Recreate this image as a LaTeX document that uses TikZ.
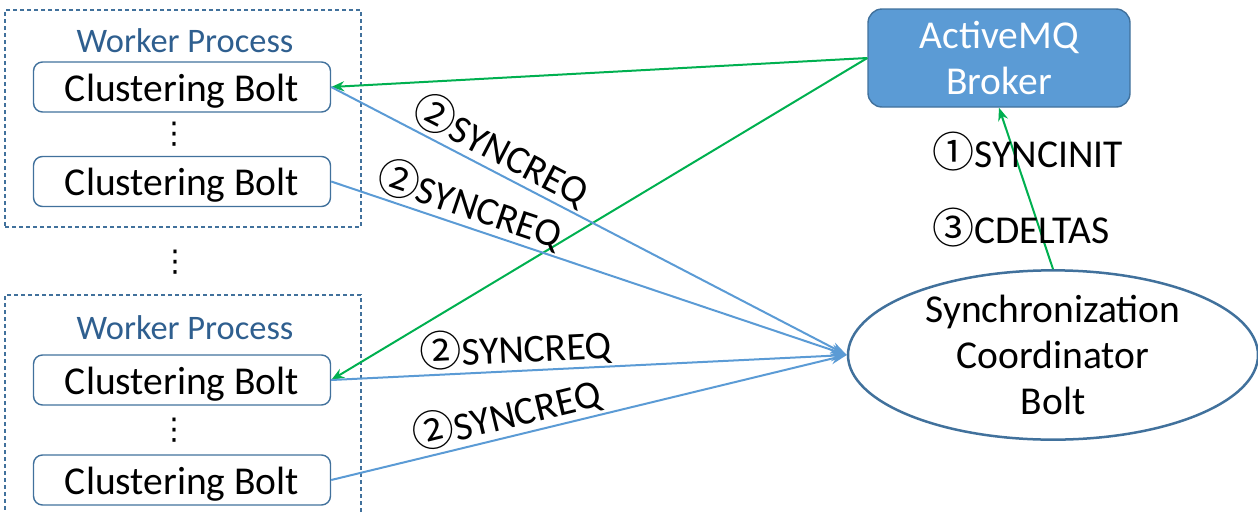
\documentclass[tikz,border=0pt]{standalone}
\usepackage{fontspec}
\setmainfont{Carlito}
\newfontfamily\circfont{Noto Sans CJK SC}
\newfontfamily\symfont{DejaVu Sans}
\usetikzlibrary{arrows.meta,shapes.geometric}
\definecolor{boxblue}{HTML}{41719C}
\definecolor{lineblue}{HTML}{5B9BD5}
\definecolor{msgreen}{HTML}{00B050}
\definecolor{wptext}{HTML}{2F5F8F}
% circled step number
\newcommand\stepno[1]{{\circfont\fontsize{42}{42}\selectfont #1}}

\begin{document}
\begin{tikzpicture}[x=1pt,y=-1pt,
  every node/.style={font=\fontsize{39.5}{46}\selectfont, inner sep=0pt},
  bolt/.style={draw=boxblue, line width=1.4pt, rounded corners=9pt,
    minimum width=297pt, minimum height=50pt, text height=28pt, text depth=0pt},
  worker/.style={draw=boxblue, dash pattern=on 4pt off 3pt, line width=1.3pt,
    minimum width=356pt},
  wptitle/.style={text=wptext, font=\fontsize{34.4}{40}\selectfont},
  broker/.style={draw=boxblue, fill=lineblue, line width=1.4pt, rounded corners=14pt,
    minimum width=262pt, minimum height=98pt, text=white, align=center},
  coord/.style={ellipse, draw=boxblue, line width=2.5pt, minimum width=410pt,
    minimum height=164pt, align=center},
  dots/.style={font=\symfont\fontsize{30}{30}\selectfont},
  greenarrow/.style={draw=msgreen, line width=2pt, -{Stealth[length=13pt,width=10pt]}},
  bluearrow/.style={draw=lineblue, line width=2pt, -{Stealth[length=16pt,width=11pt]}},
  msg/.style={sloped, above=2pt}
]
\useasboundingbox (0,0) rectangle (1258,512);
\clip (0,0) rectangle (1258,512);

% worker processes
\node[worker, minimum height=217pt] (w1) at (183,118.5) {};
\node[worker, minimum height=225pt] (w2) at (183,407.5) {};
\node[wptitle] (w1t) at (185,41) {Worker Process};
\node[wptitle] (w2t) at (185,328) {Worker Process};

% clustering bolts
\node[bolt] (b1) at (182,87) {Clustering Bolt};
\node[bolt] (b2) at (182,181.5) {Clustering Bolt};
\node[bolt] (b3) at (182,380) {Clustering Bolt};
\node[bolt] (b4) at (182,480) {Clustering Bolt};
\node[dots] (d1) at (174,134) {⋮};
\node[dots] (d2) at (175,262) {⋮};
\node[dots] (d3) at (174,430) {⋮};

% broker and coordinator
\node[broker] (mq) at (999,58) {ActiveMQ\\Broker};
\node[coord] (sc) at (1053,355) {Synchronization\\Coordinator\\Bolt};

% messages
\draw[greenarrow] (mq.west) -- (b1.east);
\draw[greenarrow] (mq.west) -- (b3.east);
\draw[greenarrow] (sc.north) -- (mq.south);
\draw[bluearrow] (b1.east) -- node[msg, pos=0.31] (l1) {\stepno{②}SYNCREQ} (sc.west);
\draw[bluearrow] (b2.east) -- node[msg, pos=0.255] (l2) {\stepno{②}SYNCREQ} (sc.west);
\draw[bluearrow] (b3.east) -- node[msg, pos=0.36] (l3) {\stepno{②}SYNCREQ} (sc.west);
\draw[bluearrow] (b4.east) -- node[msg, pos=0.35] (l4) {\stepno{②}SYNCREQ} (sc.west);

\node (l5) at (1028,152) {\stepno{①}SYNCINIT};
\node (l6) at (1021,228) {\stepno{③}CDELTAS};
\end{tikzpicture}
\end{document}
